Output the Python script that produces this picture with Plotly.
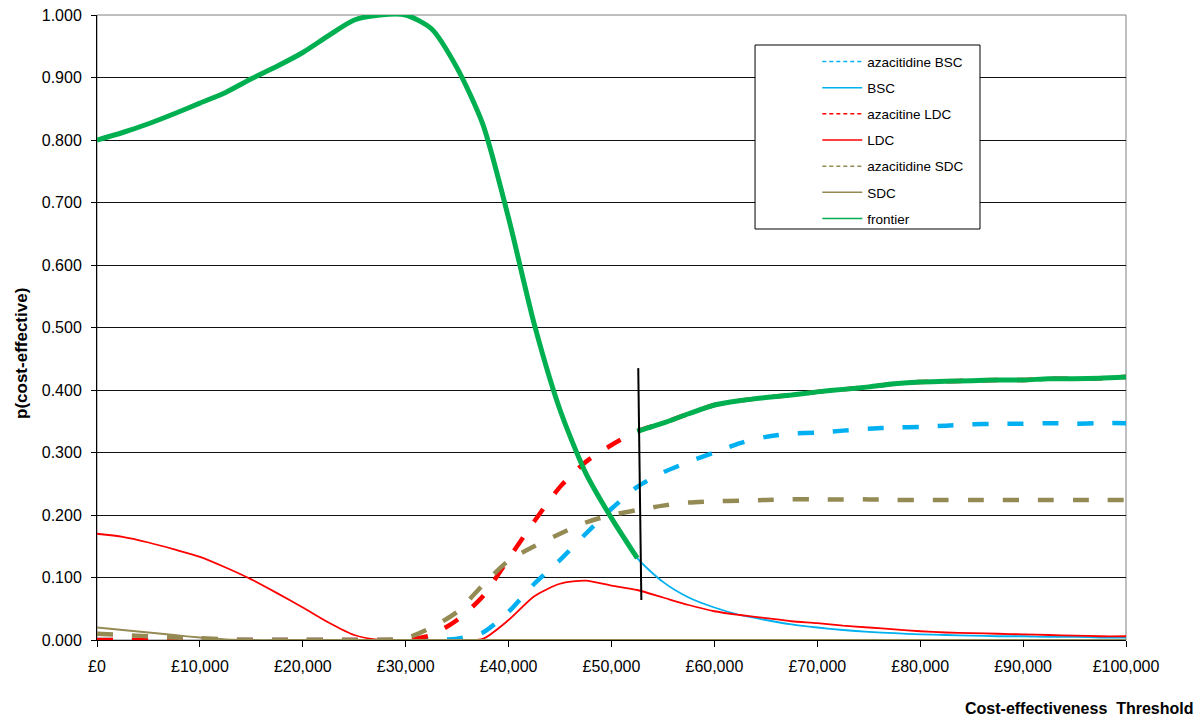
import plotly.graph_objects as go

# willingness-to-pay thresholds (GBP)
thresholds = list(range(0, 100001, 2500))
tick_vals = list(range(0, 100001, 10000))
tick_text = ['£0', '£10,000', '£20,000', '£30,000', '£40,000', '£50,000',
             '£60,000', '£70,000', '£80,000', '£90,000', '£100,000']

# probability cost-effective
aza_bsc = [0, 0, 0, 0, 0, 0, 0, 0, 0, 0, 0, 0, 0, 0, 0.002, 0.012, 0.045, 0.090, 0.128, 0.170,
           0.210, 0.245, 0.268, 0.285, 0.300, 0.315, 0.325, 0.330, 0.332, 0.335, 0.338, 0.340,
           0.341, 0.343, 0.345, 0.346, 0.346, 0.347, 0.346, 0.347, 0.347]
bsc = [0.800, 0.812, 0.826, 0.842, 0.859, 0.876, 0.898, 0.918, 0.940, 0.967, 0.992, 1.000,
       1.000, 0.978, 0.915, 0.825, 0.675, 0.505, 0.368, 0.267, 0.195, 0.131, 0.093, 0.068,
       0.052, 0.040, 0.032, 0.025, 0.020, 0.016, 0.013, 0.011, 0.009, 0.008, 0.007, 0.006,
       0.006, 0.005, 0.005, 0.004, 0.004]
aza_ldc = [0, 0, 0, 0, 0, 0, 0, 0, 0, 0, 0, 0, 0, 0.008, 0.032, 0.070, 0.130, 0.190, 0.245,
           0.285, 0.312, 0.334, 0.347, 0.362, 0.376, 0.383, 0.388, 0.392, 0.397, 0.401, 0.405,
           0.410, 0.413, 0.414, 0.415, 0.416, 0.416, 0.418, 0.418, 0.419, 0.421]
ldc = [0.170, 0.165, 0.156, 0.145, 0.133, 0.116, 0.097, 0.075, 0.052, 0.028, 0.008, 0, 0, 0, 0,
       0.002, 0.032, 0.070, 0.090, 0.095, 0.087, 0.080, 0.068, 0.056, 0.046, 0.040, 0.035,
       0.030, 0.027, 0.023, 0.020, 0.017, 0.014, 0.012, 0.011, 0.010, 0.009, 0.008, 0.007,
       0.006, 0.006]
aza_sdc = [0.010, 0.008, 0.006, 0.004, 0.003, 0.001, 0, 0, 0, 0, 0, 0, 0.003, 0.020, 0.045,
           0.088, 0.127, 0.150, 0.170, 0.188, 0.200, 0.208, 0.215, 0.220, 0.222, 0.223, 0.224,
           0.225, 0.225, 0.225, 0.225, 0.224, 0.224, 0.224, 0.224, 0.224, 0.224, 0.224, 0.224,
           0.224, 0.224]
sdc = [0.020, 0.016, 0.012, 0.008, 0.004, 0.001, 0, 0, 0, 0, 0, 0, 0, 0, 0, 0, 0, 0, 0, 0, 0,
       0, 0, 0, 0, 0, 0, 0, 0, 0, 0, 0, 0, 0, 0, 0, 0, 0, 0, 0, 0]

# frontier: BSC up to the switch point, then azacitidine LDC
switch_idx = 21
frontier_x = thresholds[:switch_idx + 1] + [None] + thresholds[switch_idx:]
frontier_y = bsc[:switch_idx + 1] + [None] + aza_ldc[switch_idx:]

# the vertical marker at the switch threshold
marker_x = [52600, 52900]
marker_y = [0.435, 0.064]

BLUE = '#00B0F0'
RED = '#FF0000'
KHAKI = '#948A54'
GREEN = '#00B050'
FONT = 'Liberation Sans, Arial, sans-serif'
SMOOTH = 0.7

fig = go.Figure()

series = [
    ('azacitidine BSC', aza_bsc, BLUE, 4.5, '16px,19px'),
    ('BSC', bsc, BLUE, 1.8, 'solid'),
    ('azacitine LDC', aza_ldc, RED, 4.5, '16px,19px'),
    ('LDC', ldc, RED, 1.8, 'solid'),
    ('azacitidine SDC', aza_sdc, KHAKI, 4.5, '16px,19px'),
    ('SDC', sdc, KHAKI, 1.8, 'solid'),
]
for name, vals, col, w, dash in series:
    fig.add_trace(go.Scatter(x=thresholds, y=vals, mode='lines', name=name,
                             line=dict(color=col, width=w, dash=dash,
                                       shape='spline', smoothing=SMOOTH),
                             showlegend=False))

fig.add_trace(go.Scatter(x=frontier_x, y=frontier_y, mode='lines', name='frontier',
                         line=dict(color=GREEN, width=5, shape='spline', smoothing=SMOOTH),
                         showlegend=False))
fig.add_trace(go.Scatter(x=marker_x, y=marker_y, mode='lines', line=dict(color='black', width=2),
                         showlegend=False, hoverinfo='skip'))

# legend entries with thin sample lines
legend_items = [(s[0], s[2], s[4]) for s in series] + [('frontier', GREEN, 'solid')]
for name, col, dash in legend_items:
    fig.add_trace(go.Scatter(x=[None], y=[None], mode='lines', name=name,
                             legendgroup=name,
                             line=dict(color=col, width=1.5,
                                       dash='4px,3px' if dash != 'solid' else 'solid')))

fig.update_layout(
    width=1202, height=718, autosize=False,
    margin=dict(l=97, r=76, t=15, b=78),
    paper_bgcolor='white', plot_bgcolor='white',
    font=dict(family=FONT, size=16, color='black'),
    legend=dict(x=0.700, y=0.950, xanchor='left', yanchor='top',
                bgcolor='rgba(0,0,0,0)', borderwidth=0,
                font=dict(size=13.5), tracegroupgap=5.6, itemwidth=40),
    shapes=[
        dict(type='rect', xref='paper', yref='paper', x0=0, x1=1, y0=0, y1=1,
             line=dict(color='#808080', width=1), layer='below'),
        dict(type='rect', xref='paper', yref='paper', x0=0.6395, x1=0.8581,
             y0=0.6576, y1=0.952, line=dict(color='black', width=1),
             fillcolor='white', layer='above'),
    ],
    annotations=[
        dict(text='<b>p(cost-effective)</b>', xref='paper', yref='paper', x=-0.074, y=0.459,
             xanchor='center', yanchor='middle',
             textangle=-90, showarrow=False, font=dict(size=17)),
        dict(text='<b>Cost-effectiveness\u00a0 Threshold</b>', xref='paper', yref='paper',
             x=0.955, y=-0.109, xanchor='center', yanchor='middle',
             showarrow=False, font=dict(size=16)),
    ],
)

fig.update_xaxes(range=[0, 100000], tickvals=tick_vals, ticktext=tick_text,
                 showgrid=False, zeroline=False, automargin=False,
                 showline=True, linecolor='black', linewidth=1,
                 ticks='outside', ticklen=6, tickcolor='black', ticklabelstandoff=6)
fig.update_yaxes(range=[0, 1], dtick=0.1, tickformat='.3f', showgrid=True,
                 gridcolor='#111111', gridwidth=1, zeroline=False, automargin=False,
                 showline=True, linecolor='black', linewidth=1,
                 ticks='outside', ticklen=5, tickcolor='black', ticklabelstandoff=6)

fig.write_html('out.html', config={'displayModeBar': False},
               post_script="document.body.style.margin='0';")
